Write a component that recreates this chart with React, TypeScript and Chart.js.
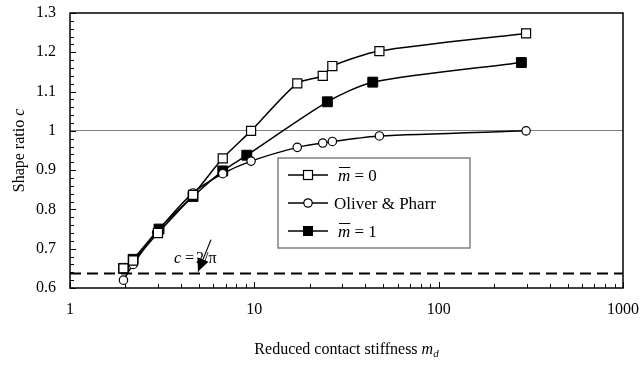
import React, { useEffect, useRef } from 'react';
import { Chart, registerables } from 'chart.js';
Chart.register(...registerables);

// ---- data ----
const mdZero = [1.95, 2.2, 3.0, 4.65, 6.74, 9.6, 17.1, 23.5, 26.5, 47.7, 298];
const cZero = [0.65, 0.67, 0.74, 0.837, 0.93, 1.0, 1.121, 1.14, 1.165, 1.203, 1.248];
const mdOP = [1.95, 2.2, 2.95, 4.65, 6.74, 9.6, 17.1, 23.5, 26.5, 47.7, 298];
const cOP = [0.62, 0.66, 0.741, 0.842, 0.891, 0.923, 0.958, 0.969, 0.973, 0.987, 1.0];
const mdOne = [1.95, 2.2, 3.04, 4.65, 6.74, 9.1, 24.9, 43.9, 281];
const cOne = [0.65, 0.673, 0.75, 0.833, 0.898, 0.938, 1.074, 1.124, 1.174];
const limitX = [1, 1000];
const limitC = 2 / Math.PI;
const xTickLabels = [1, 10, 100, 1000];
const yMin = 0.6;
const yMax = 1.3;

const FONT = '"Liberation Serif", "Times New Roman", serif';

const toPts = (xs: number[], ys: number[]) => xs.map((x, i) => ({ x, y: ys[i] }));

const decor = {
  id: 'decor',
  afterDatasetsDraw(chart: any) {
    const { ctx } = chart;
    const xs = chart.scales.x;
    const ys = chart.scales.y;
    const { left, right, top, bottom } = chart.chartArea;
    ctx.save();
    // frame
    ctx.strokeStyle = '#000';
    ctx.lineWidth = 1.5;
    ctx.strokeRect(left, top, right - left, bottom - top);
    // y ticks (inside)
    ctx.lineWidth = 1;
    for (let i = 0; i <= 35; i++) {
      const v = yMin + i * 0.02;
      const py = Math.round(ys.getPixelForValue(v)) + 0.5;
      const len = i % 5 === 0 ? 6 : 4;
      ctx.beginPath();
      ctx.moveTo(left, py);
      ctx.lineTo(left + len, py);
      ctx.stroke();
    }
    // x ticks (inside)
    for (const d of [1, 10, 100]) {
      for (let k = 1; k <= 10; k++) {
        const px = Math.round(xs.getPixelForValue(k * d)) + 0.5;
        const len = k === 1 || k === 10 ? 6 : 4;
        ctx.beginPath();
        ctx.moveTo(px, bottom);
        ctx.lineTo(px, bottom - len);
        ctx.stroke();
      }
    }
    // axis titles
    ctx.fillStyle = '#000';
    ctx.textBaseline = 'alphabetic';
    // x title
    {
      const t1 = 'Reduced contact stiffness ';
      ctx.font = `16px ${FONT}`;
      const w1 = ctx.measureText(t1).width;
      ctx.font = `italic 16px ${FONT}`;
      const w2 = ctx.measureText('m').width;
      ctx.font = `italic 11px ${FONT}`;
      const w3 = ctx.measureText('d').width;
      const total = w1 + w2 + w3;
      const cx = (left + right) / 2;
      const sx = cx - total / 2;
      const by = 354;
      ctx.textAlign = 'left';
      ctx.font = `16px ${FONT}`;
      ctx.fillText(t1, sx, by);
      ctx.font = `italic 16px ${FONT}`;
      ctx.fillText('m', sx + w1, by);
      ctx.font = `italic 11px ${FONT}`;
      ctx.fillText('d', sx + w1 + w2, by + 3);
    }
    // y title
    {
      ctx.save();
      ctx.translate(24, (top + bottom) / 2);
      ctx.rotate(-Math.PI / 2);
      const t1 = 'Shape ratio ';
      ctx.font = `16px ${FONT}`;
      const w1 = ctx.measureText(t1).width;
      ctx.font = `italic 16px ${FONT}`;
      const w2 = ctx.measureText('c').width;
      const sx = -(w1 + w2) / 2;
      ctx.textAlign = 'left';
      ctx.font = `16px ${FONT}`;
      ctx.fillText(t1, sx, 0);
      ctx.font = `italic 16px ${FONT}`;
      ctx.fillText('c', sx + w1, 0);
      ctx.restore();
    }
    // annotation c = 2/pi with arrow
    {
      const tipX = xs.getPixelForValue(4.95);
      const tipY = ys.getPixelForValue(limitC) - 2;
      const tx = tipX - 24;
      const ty = tipY - 9;
      ctx.textAlign = 'left';
      ctx.font = `italic 16px ${FONT}`;
      ctx.fillText('c', tx, ty);
      ctx.font = `16px ${FONT}`;
      ctx.fillText('=', tx + 11, ty);
      ctx.fillText('2/\u03c0', tx + 22, ty);
      // arrow
      const sx = tipX + 13;
      const sy = tipY - 32;
      const ang = Math.atan2(tipY - sy, tipX - sx);
      ctx.strokeStyle = '#000';
      ctx.lineWidth = 1.2;
      ctx.beginPath();
      ctx.moveTo(sx, sy);
      ctx.lineTo(tipX, tipY);
      ctx.stroke();
      const hl = 13, hw = 6;
      ctx.beginPath();
      ctx.moveTo(tipX, tipY);
      ctx.lineTo(tipX - hl * Math.cos(ang) + hw * Math.sin(ang), tipY - hl * Math.sin(ang) - hw * Math.cos(ang));
      ctx.lineTo(tipX - hl * Math.cos(ang) - hw * Math.sin(ang), tipY - hl * Math.sin(ang) + hw * Math.cos(ang));
      ctx.closePath();
      ctx.fill();
    }
    // legend
    {
      const bx = 278, by = 158, bw = 192, bh = 90;
      ctx.fillStyle = '#fff';
      ctx.fillRect(bx, by, bw, bh);
      ctx.strokeStyle = '#808080';
      ctx.lineWidth = 1.5;
      ctx.strokeRect(bx, by, bw, bh);
      const rows = [by + 17, by + 45, by + 73];
      const lx1 = bx + 10, lx2 = bx + 50, mx = bx + 30, tx = bx + 56;
      rows.forEach((ry, i) => {
        ctx.strokeStyle = '#000';
        ctx.lineWidth = 1.5;
        ctx.beginPath();
        ctx.moveTo(lx1, ry);
        ctx.lineTo(lx2, ry);
        ctx.stroke();
        ctx.lineWidth = 1.2;
        if (i === 0) {
          ctx.fillStyle = '#fff';
          ctx.fillRect(mx - 4.5, ry - 4.5, 9, 9);
          ctx.strokeRect(mx - 4.5, ry - 4.5, 9, 9);
        } else if (i === 1) {
          ctx.fillStyle = '#fff';
          ctx.beginPath();
          ctx.arc(mx, ry, 4.2, 0, Math.PI * 2);
          ctx.fill();
          ctx.stroke();
        } else {
          ctx.fillStyle = '#000';
          ctx.fillRect(mx - 5, ry - 5, 10, 10);
        }
        ctx.fillStyle = '#000';
        ctx.textAlign = 'left';
        const base = ry + 6;
        if (i === 1) {
          ctx.font = `17px ${FONT}`;
          ctx.fillText('Oliver & Pharr', tx, base);
        } else {
          ctx.font = `italic 17px ${FONT}`;
          const wm = ctx.measureText('m').width;
          ctx.fillText('m', tx + 4, base);
          ctx.lineWidth = 1;
          ctx.beginPath();
          ctx.moveTo(tx + 5, base - 13.5);
          ctx.lineTo(tx + 4 + wm, base - 13.5);
          ctx.stroke();
          ctx.font = `17px ${FONT}`;
          ctx.fillText(i === 0 ? ' = 0' : ' = 1', tx + 4 + wm, base);
        }
      });
    }
    ctx.restore();
  },
};

export default function App() {
  const ref = useRef<HTMLCanvasElement | null>(null);
  useEffect(() => {
    const canvas = ref.current;
    if (!canvas) return;
    const chart = new Chart(canvas, {
      type: 'line',
      data: {
        datasets: [
          {
            label: 'c = 2/π',
            data: toPts(limitX, [limitC, limitC]),
            borderColor: '#000',
            borderWidth: 2,
            borderDash: [11, 6],
            pointRadius: 0,
            tension: 0,
          },
          {
            label: 'm = 0',
            data: toPts(mdZero, cZero),
            borderColor: '#000',
            borderWidth: 1.5,
            pointStyle: 'rect',
            pointRadius: 6.4,
            pointBackgroundColor: '#fff',
            pointBorderColor: '#000',
            pointBorderWidth: 1.2,
            tension: 0.25,
          },
          {
            label: 'Oliver & Pharr',
            data: toPts(mdOP, cOP),
            borderColor: '#000',
            borderWidth: 1.5,
            pointStyle: 'circle',
            pointRadius: 4.2,
            pointBackgroundColor: '#fff',
            pointBorderColor: '#000',
            pointBorderWidth: 1.2,
            tension: 0.25,
          },
          {
            label: 'm = 1',
            data: toPts(mdOne, cOne),
            borderColor: '#000',
            borderWidth: 1.5,
            pointStyle: 'rect',
            pointRadius: 7,
            pointBackgroundColor: '#000',
            pointBorderColor: '#000',
            pointBorderWidth: 1,
            tension: 0.25,
          },
        ],
      },
      options: {
        animation: false,
        responsive: false,
        maintainAspectRatio: false,
        layout: { padding: { left: 0, top: 13, right: 19, bottom: 0 } },
        plugins: { legend: { display: false }, tooltip: { enabled: false } },
        scales: {
          x: {
            type: 'logarithmic',
            min: 1,
            max: 1000,
            afterFit: (s: any) => { s.height = 77; s.paddingLeft = 0; s.paddingRight = 0; },
            grid: { display: false, drawTicks: false },
            border: { display: false },
            ticks: {
              autoSkip: false,
              maxRotation: 0,
              padding: 12,
              color: '#000',
              font: { family: FONT, size: 16 },
              callback: (v: any) => (xTickLabels.includes(Number(v)) ? String(v) : ''),
            },
            afterBuildTicks: (s: any) => {
              s.ticks = xTickLabels.map((v) => ({ value: v }));
            },
          },
          y: {
            min: yMin,
            max: yMax,
            afterFit: (s: any) => { s.width = 70; s.paddingTop = 0; s.paddingBottom = 0; },
            grid: {
              drawTicks: false,
              color: (c: any) => (c.tick && Math.abs(c.tick.value - 1) < 1e-9 ? '#808080' : 'rgba(0,0,0,0)'),
              lineWidth: 1,
            },
            border: { display: false },
            ticks: {
              stepSize: 0.1,
              padding: 14,
              color: '#000',
              font: { family: FONT, size: 16 },
              callback: (v: any) => String(Math.round(Number(v) * 10) / 10),
            },
          },
        },
      },
      plugins: [decor],
    });
    return () => chart.destroy();
  }, []);
  return (
    <div style={{ position: 'fixed', left: 0, top: 0, width: 642, height: 365, background: '#fff' }}>
      <canvas ref={ref} width={642} height={365} style={{ width: 642, height: 365 }} />
    </div>
  );
}
